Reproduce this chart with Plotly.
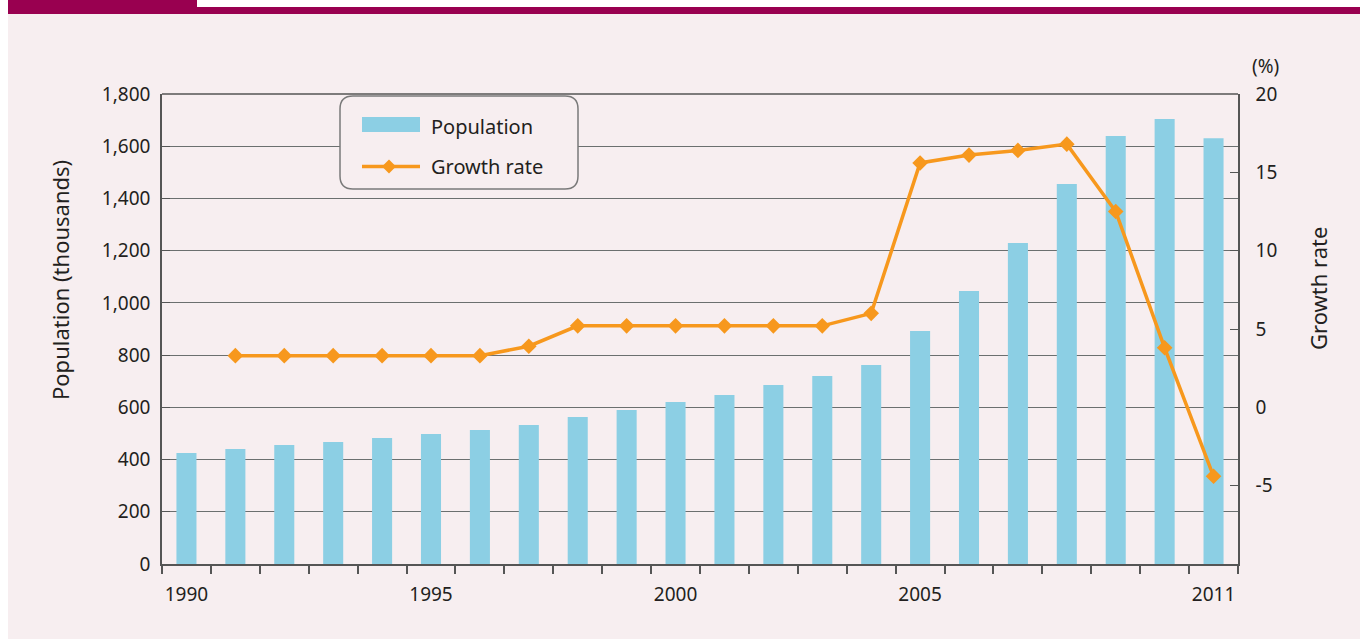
import plotly.graph_objects as go

years = list(range(1990, 2012))
population = [425, 440, 456, 467, 483, 498, 513, 532, 563, 590, 620, 647, 686, 720, 762,
              892, 1046, 1229, 1455, 1639, 1704, 1631]
growth_years = list(range(1991, 2012))
growth_rate = [3.3, 3.3, 3.3, 3.3, 3.3, 3.3, 3.9, 5.2, 5.2, 5.2, 5.2, 5.2, 5.2, 6.0,
               15.6, 16.1, 16.4, 16.8, 12.5, 3.8, -4.4]
xtick_years = [1990, 1995, 2000, 2005, 2011]
rate_ticks = [-5, 0, 5, 10, 15, 20]

FONT = "Noto Sans"
BG = "#f7eef0"
MAROON = "#990050"
BLUE = "#8ccfe4"
ORANGE = "#f7981d"
GRID = "#6b6f6f"
AXIS = "#555"
TXT = "#231f20"

W, H = 1360, 639
L, R, T, B = 162, 122, 94, 75
pw, ph = W - L - R, H - T - B
def px(x): return (x - L) / pw
def py(y): return (H - B - y) / ph

fig = go.Figure()
fig.add_trace(go.Bar(x=years, y=population, name="Population", marker_color=BLUE,
                     marker_line_width=0, width=0.41))
fig.add_trace(go.Scatter(x=growth_years, y=growth_rate, name="Growth rate", yaxis="y2",
                         mode="lines+markers", line=dict(color=ORANGE, width=3.5),
                         marker=dict(symbol="diamond", size=12, color=ORANGE)))

fig.update_layout(
    width=W, height=H,
    margin=dict(l=L, r=R, t=T, b=B),
    paper_bgcolor="white", plot_bgcolor="rgba(0,0,0,0)",
    font=dict(family=FONT, size=19, color=TXT),
    showlegend=False,
    xaxis=dict(range=[1989.5, 2011.5], tickmode="array", tickvals=xtick_years,
               ticktext=[str(y) for y in xtick_years], ticks="", showgrid=False,
               showline=True, linecolor=AXIS, linewidth=1.5,
               ticklabelstandoff=12,
               minor=dict(tickmode="linear", tick0=1989.5, dtick=1, ticks="outside",
                          ticklen=8, tickcolor=AXIS, tickwidth=1.5, showgrid=False),
               tickfont=dict(size=19)),
    yaxis=dict(range=[0, 1800], dtick=200, tickformat=",", showgrid=True,
               gridcolor=GRID, gridwidth=1, zeroline=False,
               showline=True, linecolor=AXIS, linewidth=1.5,
               ticks="inside", ticklen=8, tickcolor=AXIS, ticklabelstandoff=6,
               tickfont=dict(size=19)),
    yaxis2=dict(range=[-10, 20], tickmode="array", tickvals=rate_ticks,
                ticktext=[str(v) for v in rate_ticks], overlaying="y",
                side="right", showgrid=False, zeroline=False,
                showline=True, linecolor=AXIS, linewidth=1.5,
                ticks="inside", ticklen=8, tickcolor=AXIS, ticklabelstandoff=12,
                tickfont=dict(size=19)),
)

# background panel and header bars (page coords -> paper coords)
fig.add_shape(type="rect", xref="paper", yref="paper",
              x0=px(8), x1=px(W + 2), y0=py(H + 2), y1=py(14),
              fillcolor=BG, line_width=0, layer="below")
fig.add_shape(type="rect", xref="paper", yref="paper",
              x0=px(8), x1=px(197), y0=py(14), y1=py(-2),
              fillcolor=MAROON, line_width=0, layer="below")
fig.add_shape(type="rect", xref="paper", yref="paper",
              x0=px(197), x1=px(W + 2), y0=py(14), y1=py(7),
              fillcolor=MAROON, line_width=0, layer="below")
fig.add_shape(type="line", xref="paper", yref="paper", x0=0, x1=1, y0=1, y1=1,
              line=dict(color=AXIS, width=1.5), layer="below")

# rounded legend box
x0, x1, y0, y1, r = 340, 578, 96, 189, 13
path = (f"M {px(x0+r)},{py(y0)} L {px(x1-r)},{py(y0)} Q {px(x1)},{py(y0)} {px(x1)},{py(y0+r)} "
        f"L {px(x1)},{py(y1-r)} Q {px(x1)},{py(y1)} {px(x1-r)},{py(y1)} "
        f"L {px(x0+r)},{py(y1)} Q {px(x0)},{py(y1)} {px(x0)},{py(y1-r)} "
        f"L {px(x0)},{py(y0+r)} Q {px(x0)},{py(y0)} {px(x0+r)},{py(y0)} Z")
fig.add_shape(type="path", xref="paper", yref="paper", path=path,
              fillcolor=BG, line=dict(color="#7a7a7a", width=1.5), layer="above")
# legend symbols
fig.add_shape(type="rect", xref="paper", yref="paper",
              x0=px(362), x1=px(420), y0=py(132), y1=py(117),
              fillcolor=BLUE, line_width=0, layer="above")
fig.add_shape(type="line", xref="paper", yref="paper",
              x0=px(362), x1=px(420), y0=py(166.5), y1=py(166.5),
              line=dict(color=ORANGE, width=3.5), layer="above")
cx, cy, d = 389, 166.5, 7
dpath = (f"M {px(cx-d)},{py(cy)} L {px(cx)},{py(cy-d)} L {px(cx+d)},{py(cy)} "
         f"L {px(cx)},{py(cy+d)} Z")
fig.add_shape(type="path", xref="paper", yref="paper", path=dpath,
              fillcolor=ORANGE, line_width=0, layer="above")
fig.add_annotation(text="Population", xref="paper", yref="paper", x=px(429), y=py(126),
                   xanchor="left", yanchor="middle", showarrow=False, font=dict(size=20))
fig.add_annotation(text="Growth rate", xref="paper", yref="paper", x=px(429), y=py(166),
                   xanchor="left", yanchor="middle", showarrow=False, font=dict(size=20))

# axis titles and unit
fig.add_annotation(text="Population (thousands)", xref="paper", yref="paper",
                   x=px(60), y=py(280), xanchor="center", yanchor="middle",
                   textangle=-90, showarrow=False, font=dict(size=22))
fig.add_annotation(text="Growth rate", xref="paper", yref="paper",
                   x=px(1318), y=py(289), xanchor="center", yanchor="middle",
                   textangle=-90, showarrow=False, font=dict(size=22))
fig.add_annotation(text="(%)", xref="paper", yref="paper", x=px(1265), y=py(66),
                   xanchor="center", yanchor="middle", showarrow=False, font=dict(size=19))

fig.write_html("out.html", config={"displayModeBar": False},
               post_script="document.body.style.margin='0';"
                           "document.body.style.overflow='hidden';"
                           "document.documentElement.style.overflow='hidden';")
